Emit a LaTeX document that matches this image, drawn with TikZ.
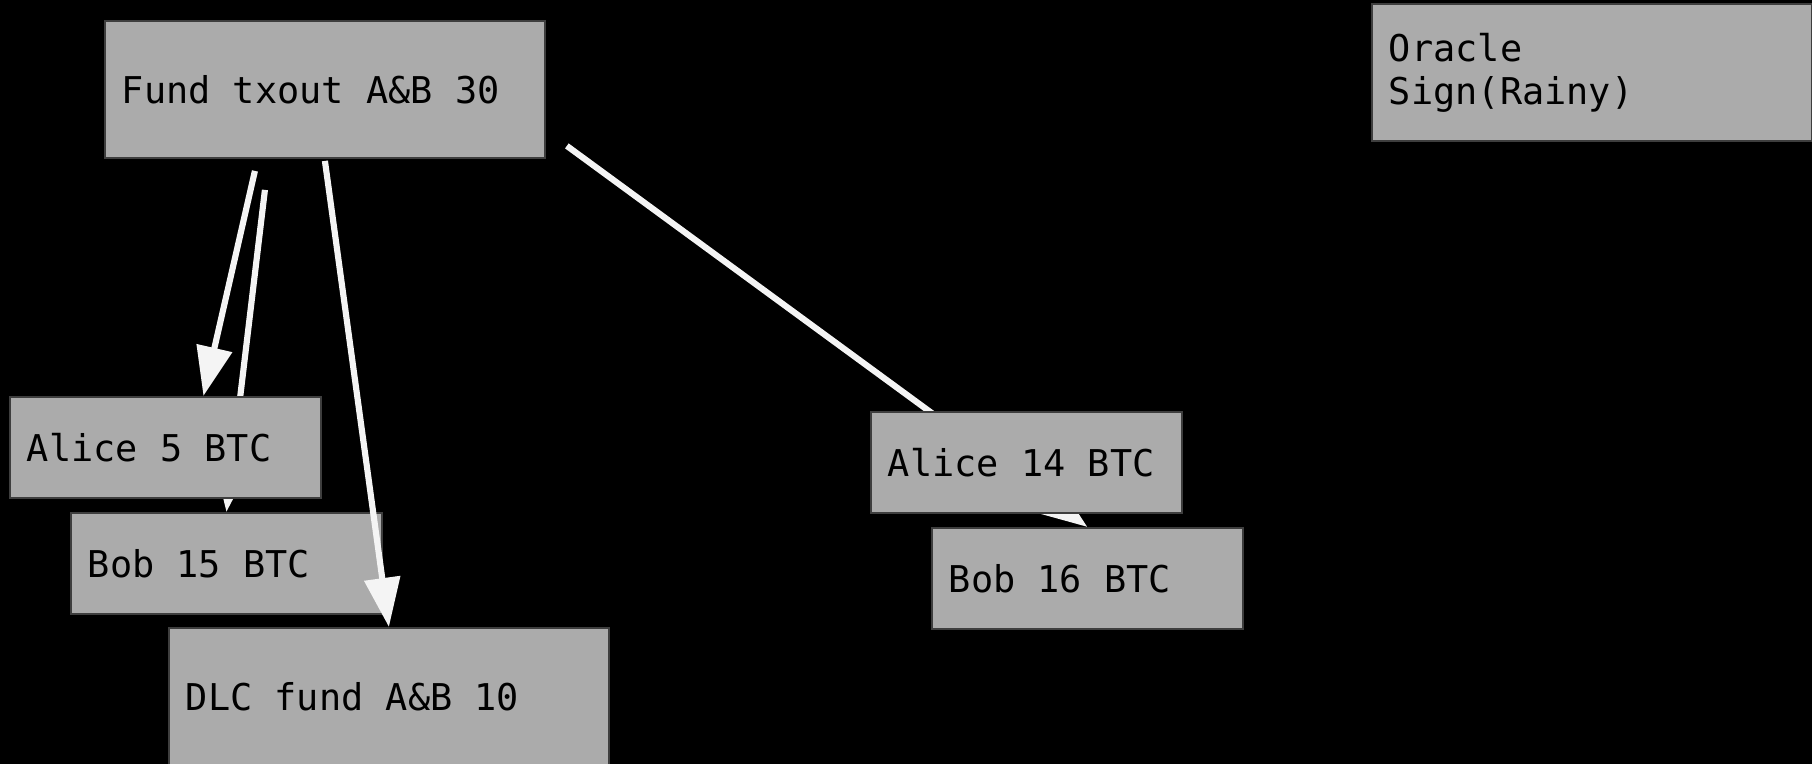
\documentclass[tikz,border=0pt]{standalone}
\usepackage{fontspec}
\setmonofont{DejaVu Sans Mono}
\usetikzlibrary{arrows.meta,calc}
\definecolor{boxgray}{HTML}{ABABAB}
\definecolor{boxline}{HTML}{3E3E3E}
\definecolor{linkwhite}{HTML}{F4F4F4}
\newcommand{\boxfont}{\ttfamily\fontsize{21pt}{24.5pt}\selectfont\spaceskip=12.64pt\relax}
\pgfdeclarelayer{back}
\pgfsetlayers{back,main}
\tikzset{
  txbox/.style={draw=boxline, fill=boxgray, line width=1.1pt, anchor=north west,
    align=flush left, inner xsep=0.34cm, inner ysep=0pt, text=black, font=\boxfont},
  bigbox/.style={txbox, text width=8.12cm, minimum width=8.8cm, minimum height=2.74cm},
  smallbox/.style={txbox, text width=5.54cm, minimum width=6.22cm, minimum height=2.02cm},
  link/.style={draw=linkwhite, line width=3.5pt, -{Triangle[length=28pt,width=20pt]}}
}

\begin{document}
\begin{tikzpicture}[x=0.02cm,y=-0.02cm]
\useasboundingbox (0,0) rectangle (1812,764);
\begin{pgfonlayer}{back}
\fill[black] (0,0) rectangle (1812,764);
\end{pgfonlayer}
\node[bigbox] (fund) at (104,20) {Fund txout A\&B 30};
\node[bigbox] (oracle) at (1371,3) {Oracle\\Sign(Rainy)};
\node[smallbox] (alicefive) at (9,396) {Alice 5 BTC};
\node[smallbox] (bobfifteen) at (70,512) {Bob 15 BTC};
\node[bigbox] (dlc) at (168,627) {DLC fund A\&B 10};
\node[smallbox] (alicefourteen) at (870,411) {Alice 14 BTC};
\node[smallbox] (bobsixteen) at (931,527) {Bob 16 BTC};
\draw[link] ($(fund.south)+(-70,12)$) -- ($(alicefive.north)+(38,0)$);
\draw[link] ($(fund.south)+(0,2)$) -- (dlc.north);
\begin{pgfonlayer}{back}
\draw[link] ($(fund.south)+(-60,31)$) -- (bobfifteen.north);
\draw[link] ($(fund.south east)+(21,-13)$) -- (bobsixteen.north);
\end{pgfonlayer}
\end{tikzpicture}
\end{document}
